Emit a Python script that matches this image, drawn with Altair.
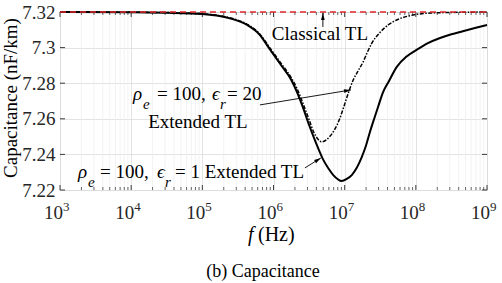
import altair as alt
import pandas as pd

# ---- data: capacitance (nF/km) versus frequency (log10 of Hz) ----
ext1_logf = [3.0, 4.0, 4.5, 5.0, 5.2, 5.4, 5.63, 5.8, 5.95, 6.1, 6.25, 6.33, 6.41, 6.5,
             6.58, 6.64, 6.7, 6.77, 6.84, 6.9, 6.955, 7.03, 7.1, 7.17, 7.24, 7.3, 7.35,
             7.41, 7.47, 7.54, 7.62, 7.73, 7.87, 8.01, 8.17, 8.34, 8.5, 8.66, 8.83, 9.0]
ext1_cap = [7.3200, 7.3199, 7.3196, 7.3189, 7.3180, 7.3163, 7.3127, 7.3075, 7.2990, 7.2905,
            7.2818, 7.2750, 7.2668, 7.2565, 7.2481, 7.2423, 7.2369, 7.2322, 7.2284, 7.2262,
            7.2250, 7.2262, 7.2284, 7.2325, 7.2385, 7.2450, 7.2519, 7.2595, 7.2668, 7.2750,
            7.2810, 7.2890, 7.2950, 7.2987, 7.3025, 7.3054, 7.3075, 7.3092, 7.3110, 7.3127]

ext20_logf = [3.0, 4.5, 5.0, 5.2, 5.4, 5.63, 5.8, 5.95, 6.1, 6.25, 6.33, 6.42, 6.5, 6.56,
              6.62, 6.675, 6.73, 6.79, 6.86, 6.93, 6.99, 7.05, 7.12, 7.19, 7.26, 7.32,
              7.38, 7.49, 7.61, 7.73, 7.96, 8.2, 8.6, 9.0]
ext20_cap = [7.3200, 7.3197, 7.3190, 7.3182, 7.3166, 7.3131, 7.3080, 7.2998, 7.2915, 7.2830,
             7.2770, 7.2680, 7.2595, 7.2530, 7.2488, 7.2471, 7.2478, 7.2500, 7.2540, 7.2600,
             7.2670, 7.2743, 7.2818, 7.2870, 7.2920, 7.2975, 7.3024, 7.3082, 7.3127, 7.3155,
             7.3183, 7.3194, 7.3198, 7.3200]

classical_f = [1e3, 1e9]
classical_cap = [7.32, 7.32]

x_exponents = [3, 4, 5, 6, 7, 8, 9]
y_ticks = [7.22, 7.24, 7.26, 7.28, 7.30, 7.32]

FONT = "Liberation Serif"
INK = "#262626"
GRID = "#dcdcdc"
W, H = 427, 178

x_major = [10.0 ** k for k in x_exponents]
x_minor = [m * 10.0 ** k for k in x_exponents[:-1] for m in range(2, 10)]

xs = alt.Scale(type="log", domain=[1e3, 1e9])
ys = alt.Scale(domain=[7.22, 7.32], zero=False, nice=False)

# one shared axis definition per channel, repeated in every layer so they merge
x_axis = alt.Axis(values=x_major, labels=False, ticks=False, domain=False,
                  grid=True, gridColor=GRID, gridWidth=0.8, title=None)
y_axis = alt.Axis(values=y_ticks, labelExpr="format(datum.value, '.2~f')",
                  labelFont=FONT, labelFontSize=19, labelColor=INK,
                  labelPadding=5, ticks=False, domain=False, grid=True,
                  gridColor=GRID, gridWidth=0.8, title=None)


def X(field="f"):
    return alt.X(f"{field}:Q", scale=xs, axis=x_axis)


def Y(field="c"):
    return alt.Y(f"{field}:Q", scale=ys, axis=y_axis)


# ---- grid, ticks ----
minor_df = pd.DataFrame({"f": x_minor})
major_df = pd.DataFrame({"f": x_major})
ytick_df = pd.DataFrame({"c": y_ticks})

minor_grid = alt.Chart(minor_df).mark_rule(color="#efefef", strokeWidth=0.8).encode(
    x=X(), y=alt.value(0), y2=alt.value(H),
)

# inward ticks on all four sides
tick_layers = [
    alt.Chart(major_df).mark_rule(color=INK, strokeWidth=0.9).encode(
        x=X(), y=alt.value(H), y2=alt.value(H - 5)),
    alt.Chart(major_df).mark_rule(color=INK, strokeWidth=0.9).encode(
        x=X(), y=alt.value(0), y2=alt.value(5)),
    alt.Chart(minor_df).mark_rule(color=INK, strokeWidth=0.7).encode(
        x=X(), y=alt.value(H), y2=alt.value(H - 3)),
    alt.Chart(minor_df).mark_rule(color=INK, strokeWidth=0.7).encode(
        x=X(), y=alt.value(0), y2=alt.value(3)),
    alt.Chart(ytick_df).mark_rule(color=INK, strokeWidth=0.9).encode(
        y=Y(), x=alt.value(0), x2=alt.value(5)),
    alt.Chart(ytick_df).mark_rule(color=INK, strokeWidth=0.9).encode(
        y=Y(), x=alt.value(W), x2=alt.value(W - 5)),
]

# x tick labels: 10 with a raised exponent
xlab_df = pd.DataFrame({"f": x_major, "base": ["10"] * len(x_major),
                        "exp": [str(k) for k in x_exponents]})
xlab_base = alt.Chart(xlab_df).mark_text(
    font=FONT, fontSize=19, color=INK, align="right", baseline="alphabetic", dx=3
).encode(x=X(), y=alt.value(207), text="base:N")
xlab_exp = alt.Chart(xlab_df).mark_text(
    font=FONT, fontSize=13, color=INK, align="left", baseline="alphabetic", dx=3
).encode(x=X(), y=alt.value(199), text="exp:N")

# ---- curves ----
ext1_df = pd.DataFrame({"f": [10 ** v for v in ext1_logf], "c": ext1_cap})
ext20_df = pd.DataFrame({"f": [10 ** v for v in ext20_logf], "c": ext20_cap})
classical_df = pd.DataFrame({"f": classical_f, "c": classical_cap})

line_ext1 = alt.Chart(ext1_df).mark_line(
    color="black", strokeWidth=2, interpolate="monotone").encode(x=X(), y=Y())
line_ext20 = alt.Chart(ext20_df).mark_line(
    color="black", strokeWidth=1.5, strokeDash=[4, 1.5, 1.5, 1.5], interpolate="monotone"
).encode(x=X(), y=Y())
line_classical = alt.Chart(classical_df).mark_line(
    color="#dc2a2e", strokeWidth=1.6, strokeDash=[6, 4]).encode(x=X(), y=Y())


# ---- annotations ----
def label(f, c, text, dx=0, dy=0, size=19, italic=False, align="left"):
    df = pd.DataFrame({"f": [f], "c": [c], "t": [text]})
    return alt.Chart(df).mark_text(
        font=FONT, fontSize=size, fontStyle="italic" if italic else "normal",
        color="black", align=align, baseline="alphabetic", dx=dx, dy=dy
    ).encode(x=X(), y=Y(), text="t:N")


def arrow(f0, c0, f1, c1, angle):
    df = pd.DataFrame({"f": [f0], "c": [c0], "f2": [f1], "c2": [c1]})
    shaft = alt.Chart(df).mark_rule(color="black", strokeWidth=0.9).encode(
        x=X(), y=Y(), x2="f2:Q", y2="c2:Q")
    head = alt.Chart(df).mark_point(
        shape="M0,0 L-0.35,1.3 L0.35,1.3 Z", filled=True, size=110, angle=angle,
        color="black", opacity=1, strokeWidth=0
    ).encode(x=X("f2"), y=Y("c2"))
    return [shaft, head]


ann = []
# Classical TL
ann.append(label(4.49e6, 7.3043, "Classical TL", align="center"))
ann += arrow(4.94e6, 7.3116, 4.94e6, 7.3194, 0)
# rho_e = 100, eps_r = 20 Extended TL
a1f, a1c = 1.06e4, 7.2706
ann += [
    label(a1f, a1c, "ρ", italic=True),
    label(a1f, a1c, "e", dx=10, dy=9, size=15, italic=True),
    label(a1f, a1c, "= 100,", dx=24),
    label(a1f, a1c, "ϵ", dx=79, italic=True),
    label(a1f, a1c, "r", dx=87, dy=9, size=15, italic=True),
    label(a1f, a1c, "= 20", dx=94),
    label(8.67e4, 7.2548, "Extended TL", align="center"),
]
ann += arrow(6.44e5, 7.2678, 1.22e7, 7.2762, 80.6)
# rho_e = 100, eps_r = 1 Extended TL
a3f, a3c = 1789, 7.2267
ann += [
    label(a3f, a3c, "ρ", italic=True),
    label(a3f, a3c, "e", dx=10, dy=9, size=15, italic=True),
    label(a3f, a3c, "= 100,", dx=22),
    label(a3f, a3c, "ϵ", dx=79, italic=True),
    label(a3f, a3c, "r", dx=87, dy=9, size=15, italic=True),
    label(a3f, a3c, "= 1 Extended TL", dx=97),
]
ann += arrow(2.76e6, 7.2324, 4.63e6, 7.2380, 58)

# axis titles and caption
one = pd.DataFrame({"t": [""]})
titles = [
    alt.Chart(one).mark_text(font=FONT, fontSize=20, fontStyle="italic", color="black",
                             align="left", baseline="alphabetic", text="f"
                             ).encode(x=alt.value(188), y=alt.value(229)),
    alt.Chart(one).mark_text(font=FONT, fontSize=20, color="black",
                             align="left", baseline="alphabetic", text="(Hz)"
                             ).encode(x=alt.value(198), y=alt.value(229)),
    alt.Chart(one).mark_text(font=FONT, fontSize=19, color="black", angle=270,
                             align="center", baseline="middle",
                             text="Capacitance (nF/km)"
                             ).encode(x=alt.value(-49), y=alt.value(86)),
    alt.Chart(one).mark_text(font=FONT, fontSize=18, color="black",
                             align="center", baseline="alphabetic",
                             text="(b) Capacitance"
                             ).encode(x=alt.value(203), y=alt.value(265)),
]

chart = alt.layer(
    minor_grid, *tick_layers, xlab_base, xlab_exp,
    line_ext1, line_ext20, line_classical, *ann, *titles
).properties(
    width=W, height=H,
    autosize=alt.AutoSizeParams(type="none"),
    padding={"left": 60, "top": 12, "right": 15, "bottom": 93},
).configure_view(
    stroke=INK, strokeWidth=1
).configure(background="white")

chart.save("out.html", embed_options={"renderer": "svg", "actions": False})
